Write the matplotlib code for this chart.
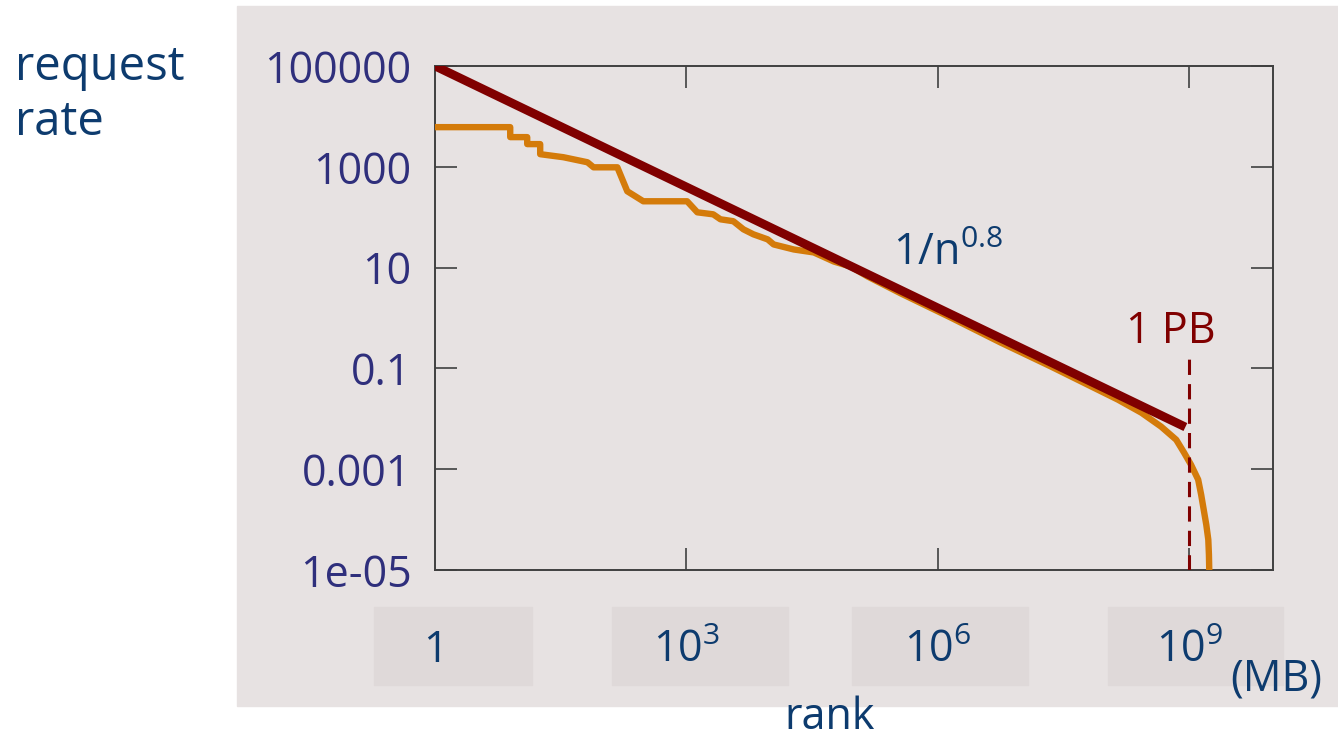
import matplotlib
matplotlib.use("Agg")
import matplotlib.pyplot as plt
from matplotlib.patches import Rectangle
from matplotlib.transforms import blended_transform_factory

plt.rcParams['font.family'] = ['Open Sans', 'DejaVu Sans']
plt.rcParams['mathtext.default'] = 'regular'

# measured request rate vs. object rank
rank = [1, 7.9, 7.9, 12.6, 12.6, 18, 18, 34, 66, 78, 150, 197, 306, 1020, 1350,
        2090, 2550, 3630, 4790, 6310, 9330, 11000, 19100, 33100, 57500, 91200,
        1.45e5, 3.63e5, 1.43e6, 5.62e6, 2.24e7, 1.41e8, 2.69e8, 4.62e8, 7.0e8,
        8.7e8, 1.05e9, 1.28e9, 1.39e9, 1.6e9, 1.69e9, 1.72e9, 1.74e9]
rate = [6120, 6120, 3880, 3880, 2820, 2820, 1780, 1550, 1230, 977, 977, 327, 207,
        207, 125, 114, 90.8, 83.2, 57.5, 45.7, 36.3, 28.8, 22.9, 20, 13.2, 10.5,
        6.68, 3.07, 1.02, 0.326, 0.109, 0.024, 0.0132, 0.0070, 0.00384, 0.00212,
        0.00123, 6.2e-4, 3.1e-4, 7.85e-5, 4.0e-5, 2.0e-5, 8e-6]

# power-law reference line 1/n^0.8
exponent = 0.8
amplitude = 1e5
fit_rank = [1, 9e8]
fit_rate = [amplitude * n ** -exponent for n in fit_rank]

pb_rank = 1e9          # 1 PB worth of 1 MB objects
pb_span = [1e-5, 0.19]

yticks = [1e5, 1e3, 10, 0.1, 1e-3, 1e-5]
ytick_labels = ['100000', '1000', '10', '0.1', '0.001', '1e-05']
xticks = [1e3, 1e6, 1e9]
xbox_ticks = [1, 1e3, 1e6, 1e9]
xbox_labels = ['1', '10$^{3}$', '10$^{6}$', '10$^{9}$']

W, H = 1338, 739
panel_col = '#e7e2e2'
box_col = '#dfd9d9'
blue = '#0d3b6e'
purple = '#2f2f7c'
dark_red = '#800000'
orange = '#d47b0a'

fig = plt.figure(figsize=(W / 100, H / 100), dpi=100)
fig.patch.set_facecolor('white')


def fx(px):
    return px / W


def fy(py):
    return 1 - py / H


# background panel behind the plot
fig.patches.append(Rectangle((fx(237), fy(706)), fx(1338 - 237), (706 - 6) / H,
                             transform=fig.transFigure, color=panel_col, zorder=-2))
# shaded boxes under the rank labels
for x0, x1 in [(374, 532), (612, 788), (852, 1028), (1108, 1283)]:
    fig.patches.append(Rectangle((fx(x0), fy(685)), fx(x1 - x0), 78 / H,
                                 transform=fig.transFigure, color=box_col, zorder=-1))

ax = fig.add_axes([fx(435), fy(570), fx(1273 - 435), (570 - 66) / H])
ax.set_facecolor(panel_col)
ax.set_xscale('log')
ax.set_yscale('log')
ax.set_xlim(1, 1e10)
ax.set_ylim(1e-5, 1e5)

ax.plot(rank, rate, color=orange, lw=4.6, solid_joinstyle='round', zorder=3)
ax.plot(fit_rank, fit_rate, color=dark_red, lw=6.3, solid_capstyle='butt', zorder=4)
ax.plot([pb_rank, pb_rank], pb_span, color=dark_red, lw=2.2, dashes=(5, 3), zorder=5)

ax.set_xticks(xticks)
ax.set_xticklabels([])
ax.set_yticks(yticks)
ax.set_yticklabels(ytick_labels)
ax.minorticks_off()
ax.tick_params(axis='both', which='major', direction='in', length=16, width=1.2,
               color='#404040', top=True, right=True)
ax.tick_params(axis='y', labelsize=31, labelcolor=purple, pad=17)
for s in ax.spines.values():
    s.set_color('#404040')
    s.set_linewidth(1.4)

ax.text(10 ** 5.47, 10 ** 1.06, '1/n$^{0.8}$', color=blue, fontsize=31,
        ha='left', va='baseline')
ax.text(10 ** 8.78, 10 ** -0.49, '1 PB', color=dark_red, fontsize=31,
        ha='center', va='baseline')

# rank labels inside the boxes, aligned with the log axis
tr = blended_transform_factory(ax.transData, fig.transFigure)
for xv, lab in zip(xbox_ticks, xbox_labels):
    fig.text(xv, fy(662), lab, transform=tr, color=blue, fontsize=31,
             ha='center', va='baseline')

fig.text(fx(1230), fy(690), '(MB)', color=blue, fontsize=31, ha='left', va='baseline')
fig.text(fx(830), fy(729), 'rank', color=blue, fontsize=31, ha='center', va='baseline')
fig.text(fx(15), fy(80), 'request', color=blue, fontsize=34, ha='left', va='baseline')
fig.text(fx(15), fy(135), 'rate', color=blue, fontsize=34, ha='left', va='baseline')

fig.savefig('out.png', dpi=100, facecolor=fig.get_facecolor())
